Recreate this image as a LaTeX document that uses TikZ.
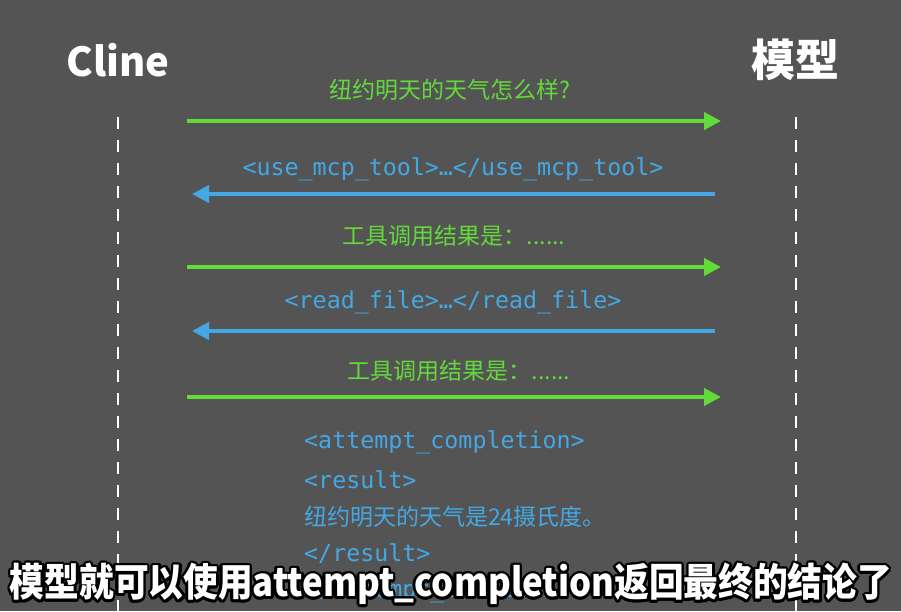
\documentclass[tikz,border=0pt]{standalone}
\usepackage{fontspec}
\setmonofont{DejaVu Sans Mono}
\newfontfamily\cjk{Noto Sans CJK SC}
\usetikzlibrary{arrows.meta,positioning}
\definecolor{bgdark}{RGB}{84,84,84}
\definecolor{msggreen}{RGB}{98,218,58}
\definecolor{msgblue}{RGB}{68,168,228}
\newcommand{\captiontext}{\scalebox{0.89}[1]{模型就可以使用attempt\_completion返回最终的结论了}}

\begin{document}
\begin{tikzpicture}[x=1pt,y=-1pt,
    actor/.style={text=white,font=\cjk\bfseries\fontsize{40}{44}\selectfont},
    lifeline/.style={white,line width=2pt,dash pattern=on 12pt off 11pt},
    request/.style={msggreen,line width=4pt,-{Triangle[length=17pt,width=17pt]}},
    reply/.style={msgblue,line width=4pt,-{Triangle[length=17pt,width=17pt]}},
    asklabel/.style={text=msggreen,font=\cjk\fontsize{23}{26}\selectfont},
    codelabel/.style={text=msgblue,font=\ttfamily\fontsize{23.3}{26}\selectfont},
    codeline/.style={text=msgblue,anchor=west,inner sep=0pt,font=\ttfamily\fontsize{23.3}{26}\selectfont},
    subtitle/.style={inner sep=0pt,font=\cjk\bfseries\fontsize{39}{42}\selectfont}]
    \useasboundingbox (0,0) rectangle (901,611);
    \fill[bgdark] (0,0) rectangle (901,611);

    %, Actors and lifelines ---
    \node[actor] (cline) at (118,60) {Cline};
    \node[actor,font=\cjk\bfseries\fontsize{44}{48}\selectfont] (model) at (795,60) {模型};
    \coordinate (clinetop) at (118,117);
    \coordinate (clinebot) at (118,611);
    \coordinate (modeltop) at (796,117);
    \coordinate (modelbot) at (796,611);
    \draw[lifeline] (clinetop) -- (clinebot);
    \draw[lifeline] (modeltop) -- (modelbot);

    %, Messages ---
    \foreach \n/\y in {1/121,3/267,5/397} {
        \coordinate (msg\n from) at (187,\y);
        \coordinate (msg\n to) at (721,\y);
        \draw[request] (msg\n from) -- (msg\n to);
    }
    \foreach \n/\y in {2/194,4/331} {
        \coordinate (msg\n from) at (715,\y);
        \coordinate (msg\n to) at (192,\y);
        \draw[reply] (msg\n from) -- (msg\n to);
    }
    \node[asklabel] (ask1) at (450,90) {纽约明天的天气怎么样?};
    \node[codelabel] (call1) at (453,169) {<use\_mcp\_tool>…</use\_mcp\_tool>};
    \node[asklabel] (result1) at (454,236) {工具调用结果是：......};
    \node[codelabel] (call2) at (453,302) {<read\_file>…</read\_file>};
    \node[asklabel] (result2) at (459,371) {工具调用结果是：......};

    %, Final answer ---
    \node[codeline] (done1) at (304,442) {<attempt\_completion>};
    \node[codeline] (done2) at (304,480) {<result>};
    \node[codeline,font=\cjk\fontsize{23}{26}\selectfont] (done3) at (304,517) {纽约明天的天气是24摄氏度。};
    \node[codeline] (done4) at (304,554) {</result>};
    \node[codeline] (done5) at (304,591) {</attempt\_completion>};

    %, Subtitle ---
    \foreach \a in {0,...,11}
        \node[subtitle,text=black,shift={(\a*30:2.6)}] (shade\a) at (451,584) {\captiontext};
    \node[subtitle,text=white] (caption) at (451,584) {\captiontext};
\end{tikzpicture}
\end{document}
